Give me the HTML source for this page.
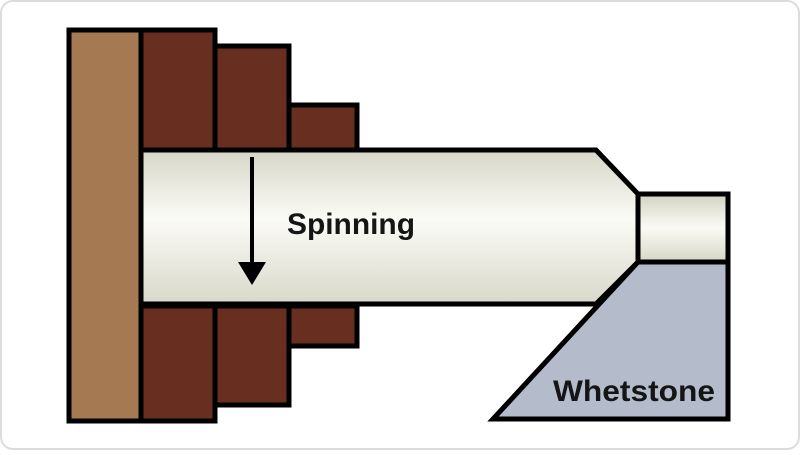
<!DOCTYPE html>
<html><head><meta charset="utf-8"><style>
html,body{margin:0;padding:0;background:#fff;}
</style></head><body>
<svg width="800" height="450" viewBox="0 0 800 450" xmlns="http://www.w3.org/2000/svg">
<defs>
<linearGradient id="cyl" x1="0" y1="0" x2="0" y2="1">
<stop offset="0" stop-color="#d6d6c8"/>
<stop offset="0.45" stop-color="#fbfbf6"/>
<stop offset="1" stop-color="#d8d8ca"/>
</linearGradient>
<linearGradient id="cyl2" x1="0" y1="0" x2="0" y2="1">
<stop offset="0" stop-color="#d2d2c2"/>
<stop offset="0.5" stop-color="#fbfbf4"/>
<stop offset="1" stop-color="#d6d6c6"/>
</linearGradient>
</defs>
<rect x="1" y="1" width="798" height="448" rx="12" fill="#fff" stroke="#dcdcdc" stroke-width="2"/>
<g stroke="#000" stroke-width="5" stroke-linejoin="miter">
<path d="M141 150 L596 150 L638 194 L638 262 L596 304 L141 304 Z" fill="url(#cyl)"/>
<rect x="638" y="194" width="90" height="68" fill="url(#cyl2)"/>
<path d="M638 262 L728 262 L728 419 L493 419 Z" fill="#b4bccb"/>
<rect x="69" y="30" width="72" height="391" fill="#a57a52"/>
<rect x="141" y="30" width="74" height="120" fill="#682e1f"/>
<rect x="215" y="46" width="74" height="104" fill="#682e1f"/>
<rect x="289" y="105" width="68" height="45" fill="#682e1f"/>
<rect x="141" y="306" width="74" height="115" fill="#682e1f"/>
<rect x="215" y="306" width="74" height="99" fill="#682e1f"/>
<rect x="289" y="306" width="68" height="40" fill="#682e1f"/>
</g>
<line x1="252" y1="157" x2="252" y2="264" stroke="#000" stroke-width="4"/>
<path d="M238 262 L266 262 L252 285 Z" fill="#000"/>
<text x="287" y="234" font-family="Liberation Sans, sans-serif" font-size="30" font-weight="bold" fill="#151515" textLength="128" lengthAdjust="spacingAndGlyphs">Spinning</text>
<text x="553" y="401" font-family="Liberation Sans, sans-serif" font-size="30" font-weight="bold" fill="#151515" textLength="162" lengthAdjust="spacingAndGlyphs">Whetstone</text>
</svg>
</body></html>
